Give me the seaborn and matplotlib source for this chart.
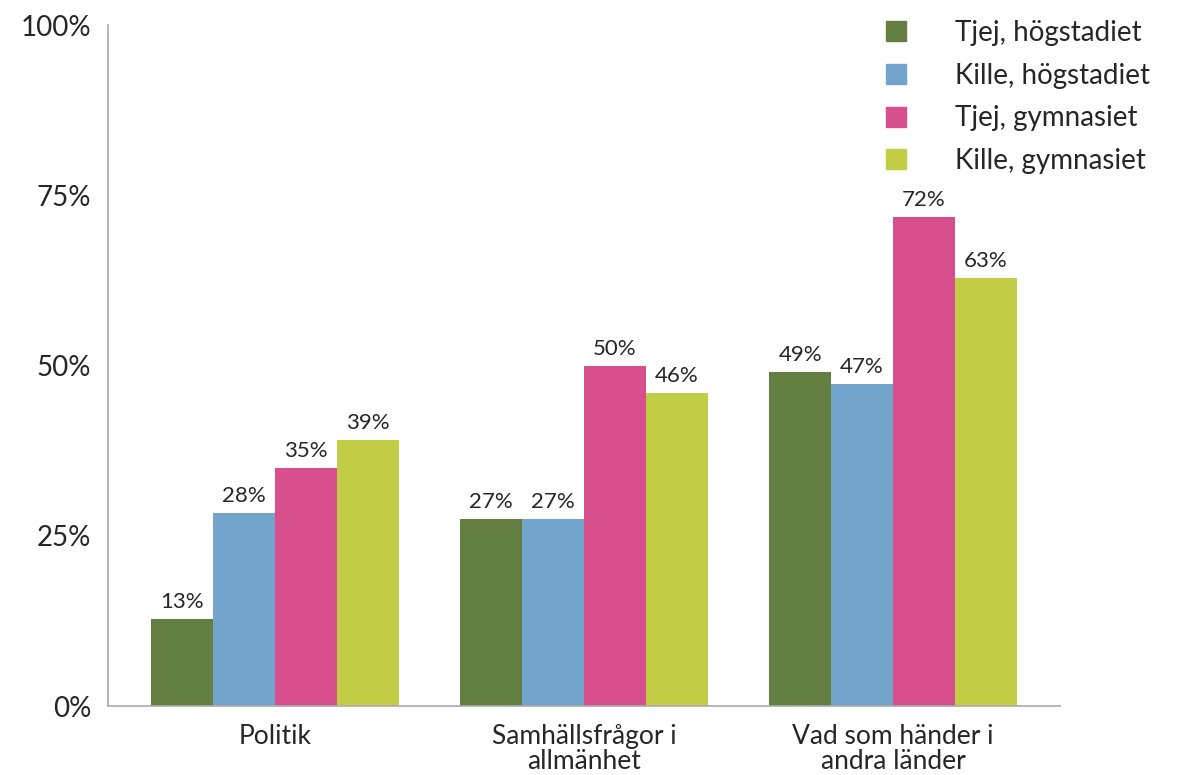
import pandas as pd
import matplotlib.pyplot as plt
import seaborn as sns
from matplotlib.lines import Line2D

categories = ["Politik", "Samhällsfrågor i\nallmänhet", "Vad som händer i\nandra länder"]
groups = ["Tjej, högstadiet", "Kille, högstadiet", "Tjej, gymnasiet", "Kille, gymnasiet"]
tjej_hog = [12.8, 27.4, 49.0]
kille_hog = [28.4, 27.4, 47.3]
tjej_gym = [35.0, 50.0, 71.8]
kille_gym = [39.0, 46.0, 62.9]
colors = ["#647f42", "#73a5cc", "#d74f8c", "#c1cd44"]

df = pd.DataFrame({
    "kategori": categories * 4,
    "grupp": [g for g in groups for _ in categories],
    "andel": tjej_hog + kille_hog + tjej_gym + kille_gym,
})

sns.set_style("white")
plt.rcParams["font.family"] = ["Lato", "DejaVu Sans"]

fig = plt.figure(figsize=(11.79, 7.75), dpi=100)
ax = fig.add_axes([0.0916, 0.089, 0.8074, 0.8787])

sns.barplot(data=df, x="kategori", y="andel", hue="grupp", hue_order=groups,
            palette=colors, width=0.8, saturation=1, legend=False,
            linewidth=0, ax=ax)

for cont in ax.containers:
    ax.bar_label(cont, labels=[f"{v:.0f}%" for v in cont.datavalues],
                 padding=5, fontsize=16)

ax.set_xlim(-0.54, 2.54)
ax.set_ylim(0, 100)
ax.set_yticks([0, 25, 50, 75, 100])
ax.set_yticklabels([f"{t}%" for t in [0, 25, 50, 75, 100]], fontsize=20)
ax.tick_params(axis="x", labelsize=19, length=8, color="#aaaaaa", width=1.2, pad=5)
ax.tick_params(axis="y", length=8, color="#aaaaaa", width=1.2, pad=4)
for lbl in ax.get_xticklabels():
    lbl.set_linespacing(1.0)
ax.set_xlabel("")
ax.set_ylabel("")

for side in ["top", "right"]:
    ax.spines[side].set_visible(False)
for side in ["left", "bottom"]:
    ax.spines[side].set_color("#aaaaaa")
    ax.spines[side].set_linewidth(1.2)

handles = [Line2D([], [], marker="s", linestyle="", markersize=15,
                  markerfacecolor=c, markeredgecolor=c) for c in colors]
fig.legend(handles, groups, loc="upper right", bbox_to_anchor=(0.988, 0.994),
           frameon=False, fontsize=20, handletextpad=1.1, labelspacing=0.6,
           borderaxespad=0.15)

fig.savefig("out.png", dpi=100)
